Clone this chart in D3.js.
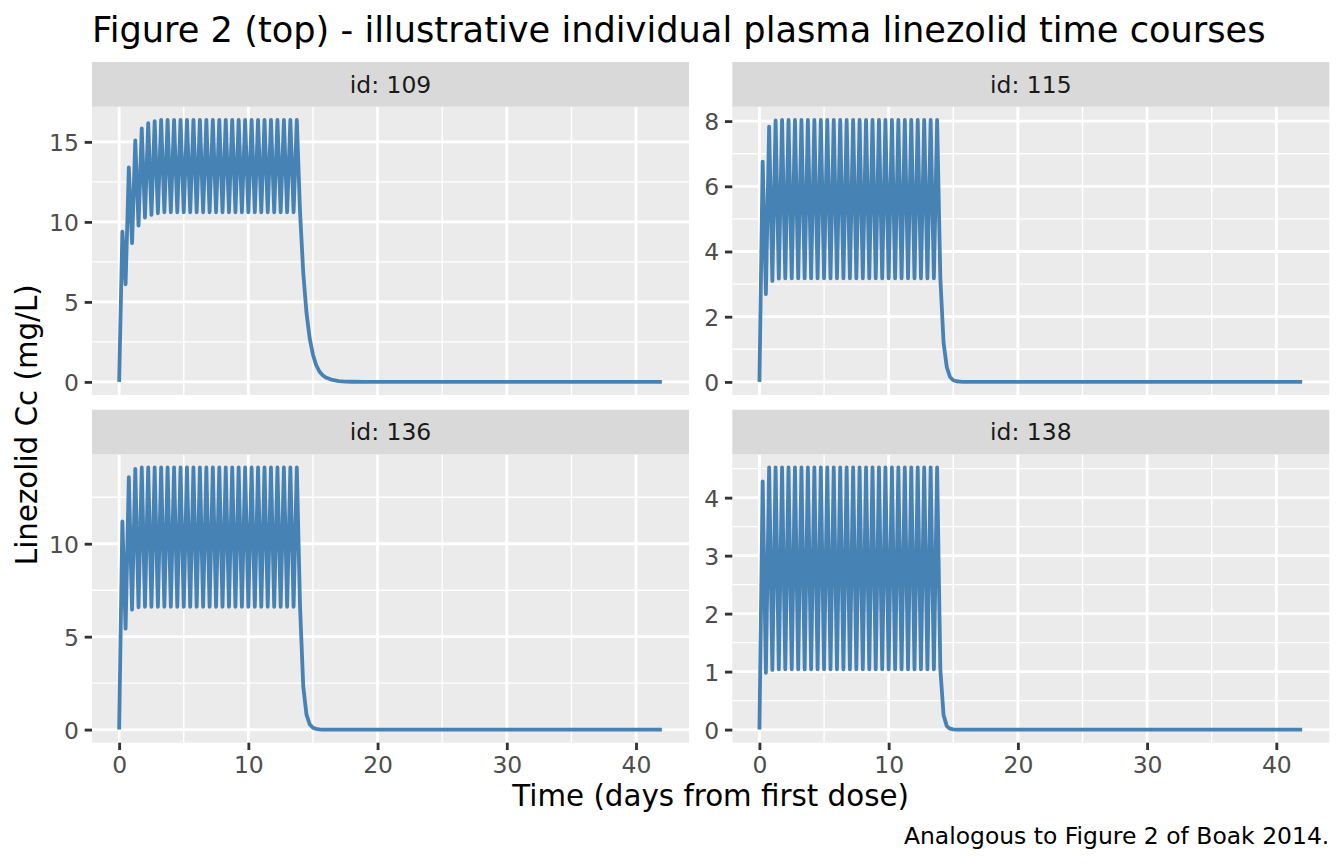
<!DOCTYPE html>
<html>
<head>
<meta charset="utf-8">
<script src="https://cdn.jsdelivr.net/npm/d3@7"></script>
<style>
  body { margin: 0; background: #fff; }
  svg { display: block; font-family: "DejaVu Sans", sans-serif; }
</style>
</head>
<body>
<svg id="chart" width="1344" height="864"></svg>
<script>
// facet ids, in panel order
var ids = ["109", "115", "136", "138"]

// sampling times (days): peak after each dose, trough just before the next, washout
var peakTimes = [0.25, 0.75, 1.25, 1.75, 2.25, 2.75, 3.25, 3.75, 4.25, 4.75, 5.25, 5.75, 6.25, 6.75,
  7.25, 7.75, 8.25, 8.75, 9.25, 9.75, 10.25, 10.75, 11.25, 11.75, 12.25, 12.75, 13.25, 13.75]
var troughTimes = [0.5, 1, 1.5, 2, 2.5, 3, 3.5, 4, 4.5, 5, 5.5, 6, 6.5, 7,
  7.5, 8, 8.5, 9, 9.5, 10, 10.5, 11, 11.5, 12, 12.5, 13, 13.5]
var tailTimes = [14, 14.25, 14.5, 14.75, 15, 15.25, 15.5, 15.75, 16, 16.5, 17, 17.5, 18, 19, 20, 42]

// id 109
var peaks109 = [9.39, 13.4, 15.1, 15.85, 16.17, 16.3,
  16.38, 16.38, 16.38, 16.38, 16.38, 16.38, 16.38, 16.38, 16.38, 16.38, 16.38,
  16.38, 16.38, 16.38, 16.38, 16.38, 16.38, 16.38, 16.38, 16.38, 16.38, 16.38]
var troughs109 = [6.1, 8.67, 9.77, 10.27, 10.44, 10.54,
  10.6, 10.6, 10.6, 10.6, 10.6, 10.6, 10.6,
  10.6, 10.6, 10.6, 10.6, 10.6, 10.6, 10.6,
  10.6, 10.6, 10.6, 10.6, 10.6, 10.6, 10.6]
var tail109 = [10.6, 6.8, 4.3, 2.7, 1.7, 1.05, 0.65, 0.42, 0.27, 0.12, 0.05, 0.02, 0.01, 0, 0, 0]

// id 115
var peaks115 = [6.76, 7.83, 8.02,
  8.04, 8.04, 8.04, 8.04, 8.04, 8.04, 8.04, 8.04, 8.04, 8.04, 8.04, 8.04, 8.04,
  8.04, 8.04, 8.04, 8.04, 8.04, 8.04, 8.04, 8.04, 8.04, 8.04, 8.04, 8.04]
var troughs115 = [2.69, 3.1, 3.17,
  3.18, 3.18, 3.18, 3.18, 3.18, 3.18, 3.18, 3.18,
  3.18, 3.18, 3.18, 3.18, 3.18, 3.18, 3.18, 3.18,
  3.18, 3.18, 3.18, 3.18, 3.18, 3.18, 3.18, 3.18]
var tail115 = [3.18, 1.2, 0.45, 0.15, 0.05, 0.02, 0.01, 0, 0, 0, 0, 0, 0, 0, 0, 0]

// id 136
var peaks136 = [11.2, 13.58, 14.03,
  14.1, 14.1, 14.1, 14.1, 14.1, 14.1, 14.1, 14.1, 14.1, 14.1, 14.1, 14.1, 14.1,
  14.1, 14.1, 14.1, 14.1, 14.1, 14.1, 14.1, 14.1, 14.1, 14.1, 14.1, 14.1]
var troughs136 = [5.43, 6.45, 6.58,
  6.61, 6.61, 6.61, 6.61, 6.61, 6.61, 6.61, 6.61,
  6.61, 6.61, 6.61, 6.61, 6.61, 6.61, 6.61, 6.61,
  6.61, 6.61, 6.61, 6.61, 6.61, 6.61, 6.61, 6.61]
var tail136 = [6.61, 2.3, 0.8, 0.28, 0.1, 0.04, 0.015, 0, 0, 0, 0, 0, 0, 0, 0, 0]

// id 138
var peaks138 = [4.28,
  4.52, 4.52, 4.52, 4.52, 4.52, 4.52, 4.52, 4.52, 4.52,
  4.52, 4.52, 4.52, 4.52, 4.52, 4.52, 4.52, 4.52, 4.52,
  4.52, 4.52, 4.52, 4.52, 4.52, 4.52, 4.52, 4.52, 4.52]
var troughs138 = [0.98, 1.03,
  1.04, 1.04, 1.04, 1.04, 1.04, 1.04, 1.04, 1.04, 1.04, 1.04, 1.04, 1.04, 1.04,
  1.04, 1.04, 1.04, 1.04, 1.04, 1.04, 1.04, 1.04, 1.04, 1.04, 1.04, 1.04]
var tail138 = [1.04, 0.25, 0.06, 0.015, 0.003, 0, 0, 0, 0, 0, 0, 0, 0, 0, 0, 0]

var xBreaks = [0, 10, 20, 30, 40]
var xMinor = [5, 15, 25, 35]
var yStep = {"109": 5, "115": 2, "136": 5, "138": 1}

var seriesById = {
  "109": [peaks109, troughs109, tail109],
  "115": [peaks115, troughs115, tail115],
  "136": [peaks136, troughs136, tail136],
  "138": [peaks138, troughs138, tail138]
}

function buildSeries(p, tr, tail){
  var pts = [{t: 0, c: 0}]
  peakTimes.forEach(function(t, i){
    pts.push({t: t, c: p[i]})
    if (i < troughTimes.length) pts.push({t: troughTimes[i], c: tr[i]})
  })
  tailTimes.forEach(function(t, i){ pts.push({t: t, c: tail[i]}) })
  return pts
}

// layout (px), ggplot theme_grey at 192 dpi
var pt = 192 / 72
var colX = [92, 732.3], panelW = 597
var stripTop = [62, 409.7], stripH = 44.7, panelH = 288.3
var tickLen = 2.75 * pt, tickPad = 2.2 * pt
var steel = "#4682B4"

var svg = d3.select("#chart")

svg.append("text")
  .attr("x", 92).attr("y", 41.7)
  .style("font-size", (13.2 * pt) + "px")
  .style("fill", "#000")
  .text("Figure 2 (top) - illustrative individual plasma linezolid time courses")

var x = d3.scaleLinear().domain([-2.1, 44.1]).range([0, panelW])

ids.forEach(function(id, k){
  var col = k % 2, row = Math.floor(k / 2)
  var data = buildSeries.apply(null, seriesById[id])
  var ymax = d3.max(data, d => d.c)
  var y = d3.scaleLinear().domain([-0.05 * ymax, ymax * 1.05]).range([panelH, 0])
  var step = yStep[id]
  var yBreaks = d3.range(0, ymax * 1.05 + 1e-9, step)
  var yMinor = d3.range(step / 2, ymax * 1.05, step)

  var g = svg.append("g")
    .attr("transform", "translate(" + colX[col] + "," + (stripTop[row] + stripH) + ")")

  // strip
  svg.append("rect")
    .attr("x", colX[col]).attr("y", stripTop[row])
    .attr("width", panelW).attr("height", stripH)
    .style("fill", "#D9D9D9")
  svg.append("text")
    .attr("x", colX[col] + panelW / 2).attr("y", stripTop[row] + stripH / 2)
    .attr("dy", "0.36em")
    .attr("text-anchor", "middle")
    .style("font-size", (8.8 * pt) + "px")
    .style("fill", "#1A1A1A")
    .text("id: " + id)

  g.append("rect").attr("width", panelW).attr("height", panelH).style("fill", "#EBEBEB")

  // grid
  g.selectAll(".ymin").data(yMinor).enter().append("line")
    .attr("x1", 0).attr("x2", panelW)
    .attr("y1", d => y(d)).attr("y2", d => y(d))
    .style("stroke", "#fff").style("stroke-width", 1.42)
  g.selectAll(".xmin").data(xMinor).enter().append("line")
    .attr("y1", 0).attr("y2", panelH)
    .attr("x1", d => x(d)).attr("x2", d => x(d))
    .style("stroke", "#fff").style("stroke-width", 1.42)
  g.selectAll(".ymaj").data(yBreaks).enter().append("line")
    .attr("x1", 0).attr("x2", panelW)
    .attr("y1", d => y(d)).attr("y2", d => y(d))
    .style("stroke", "#fff").style("stroke-width", 2.84)
  g.selectAll(".xmaj").data(xBreaks).enter().append("line")
    .attr("y1", 0).attr("y2", panelH)
    .attr("x1", d => x(d)).attr("x2", d => x(d))
    .style("stroke", "#fff").style("stroke-width", 2.84)

  // the time course
  g.append("path")
    .datum(data)
    .attr("d", d3.line().x(d => x(d.t)).y(d => y(d.c)))
    .style("fill", "none")
    .style("stroke", steel)
    .style("stroke-width", 3.8)
    .style("stroke-linejoin", "round")

  // y axis
  var ya = g.append("g")
    .call(d3.axisLeft(y).tickValues(yBreaks).tickFormat(d3.format("d"))
      .tickSize(tickLen).tickPadding(tickPad))
  ya.select(".domain").remove()
  ya.selectAll("line").style("stroke", "#333333").style("stroke-width", 2.84)
  ya.selectAll("text")
    .attr("dy", "0.36em")
    .style("font-family", "DejaVu Sans")
    .style("font-size", (8.8 * pt) + "px")
    .style("fill", "#4D4D4D")

  // x axis on bottom row only
  if (row == 1) {
    var xa = g.append("g")
      .attr("transform", "translate(0," + panelH + ")")
      .call(d3.axisBottom(x).tickValues(xBreaks).tickFormat(d3.format("d"))
        .tickSize(tickLen).tickPadding(tickPad))
    xa.select(".domain").remove()
    xa.selectAll("line").style("stroke", "#333333").style("stroke-width", 2.84)
    xa.selectAll("text")
      .style("font-family", "DejaVu Sans")
      .style("font-size", (8.8 * pt) + "px")
      .style("fill", "#4D4D4D")
  }
})

// axis titles and caption
svg.append("text")
  .attr("x", (colX[0] + colX[1] + panelW) / 2).attr("y", 806)
  .attr("text-anchor", "middle")
  .style("font-size", (11 * pt) + "px")
  .text("Time (days from first dose)")

svg.append("text")
  .attr("transform", "translate(36.5," + ((stripTop[0] + stripH + stripTop[1] + stripH + panelH) / 2) + ") rotate(-90)")
  .attr("text-anchor", "middle")
  .style("font-size", (11 * pt) + "px")
  .text("Linezolid Cc (mg/L)")

svg.append("text")
  .attr("x", colX[1] + panelW).attr("y", 844)
  .attr("text-anchor", "end")
  .style("font-size", (8.8 * pt) + "px")
  .text("Analogous to Figure 2 of Boak 2014.")
</script>
</body>
</html>
